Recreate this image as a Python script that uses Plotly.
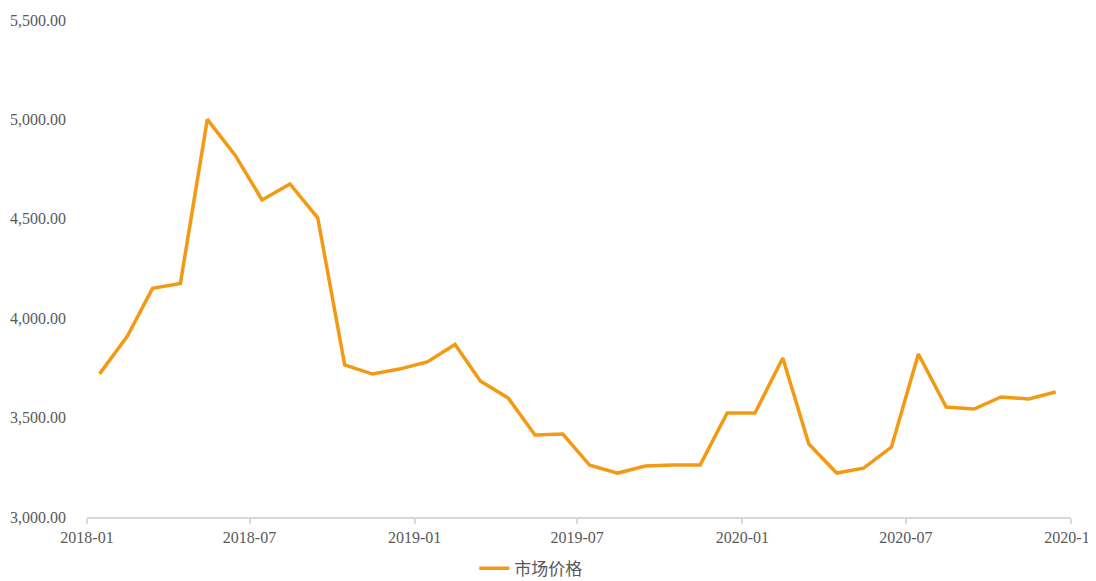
import plotly.graph_objects as go

months = ["2018-01", "2018-02", "2018-03", "2018-04", "2018-05", "2018-06",
          "2018-07", "2018-08", "2018-09", "2018-10", "2018-11", "2018-12",
          "2019-01", "2019-02", "2019-03", "2019-04", "2019-05", "2019-06",
          "2019-07", "2019-08", "2019-09", "2019-10", "2019-11", "2019-12",
          "2020-01", "2020-02", "2020-03", "2020-04", "2020-05", "2020-06",
          "2020-07", "2020-08", "2020-09", "2020-10", "2020-11", "2020-12"]
price = [3720, 3910, 4150, 4175, 5000, 4820,
         4595, 4675, 4505, 3765, 3719, 3744,
         3780, 3868, 3684, 3599, 3412, 3417,
         3260, 3221, 3256, 3262, 3262, 3523,
         3523, 3800, 3367, 3221, 3246, 3352,
         3820, 3553, 3543, 3604, 3594, 3629]
series_name = "市场价格"

tick_vals = ["2018-01-01", "2018-07-01", "2019-01-01", "2019-07-01",
             "2020-01-01", "2020-07-01", "2021-01-01"]
tick_text = ["2018-01", "2018-07", "2019-01", "2019-07",
             "2020-01", "2020-07", "2020-12"]

x_dates = [m + "-15" for m in months]

fig = go.Figure()
fig.add_trace(go.Scatter(
    x=x_dates, y=price, mode="lines", name=series_name,
    line=dict(color="#F39A14", width=3.5),
))

font_main = "Liberation Serif, Times New Roman, serif"

fig.update_layout(
    width=1096, height=573,
    margin=dict(l=79, r=33, t=12, b=64, autoexpand=False),
    paper_bgcolor="white", plot_bgcolor="white",
    font=dict(family=font_main, size=16, color="#595959"),
    showlegend=True,
    legend=dict(orientation="h", x=0.451, xanchor="center", y=-0.104, yanchor="middle",
                font=dict(family="Noto Sans CJK SC, sans-serif", size=17, color="#595959")),
    xaxis=dict(
        type="date", automargin=False,
        range=["2018-01-01", "2021-01-01"],
        tickmode="array", tickvals=tick_vals, ticktext=tick_text,
        ticklabeloverflow="allow",
        showgrid=False, zeroline=False,
        showline=True, linecolor="#D9D9D9", linewidth=1.5,
        ticks="outside", ticklen=5, tickcolor="#D9D9D9", tickwidth=1.5,
        tickfont=dict(family=font_main, size=16, color="#595959"),
    ),
    yaxis=dict(
        range=[3000, 5500], tickvals=[3000, 3500, 4000, 4500, 5000, 5500],
        tickformat=",.2f", automargin=False,
        showgrid=False, zeroline=False, showline=False, ticks="",
        ticklabelstandoff=20,
        tickfont=dict(family=font_main, size=16, color="#595959"),
    ),
)

fig.write_html("out.html")
